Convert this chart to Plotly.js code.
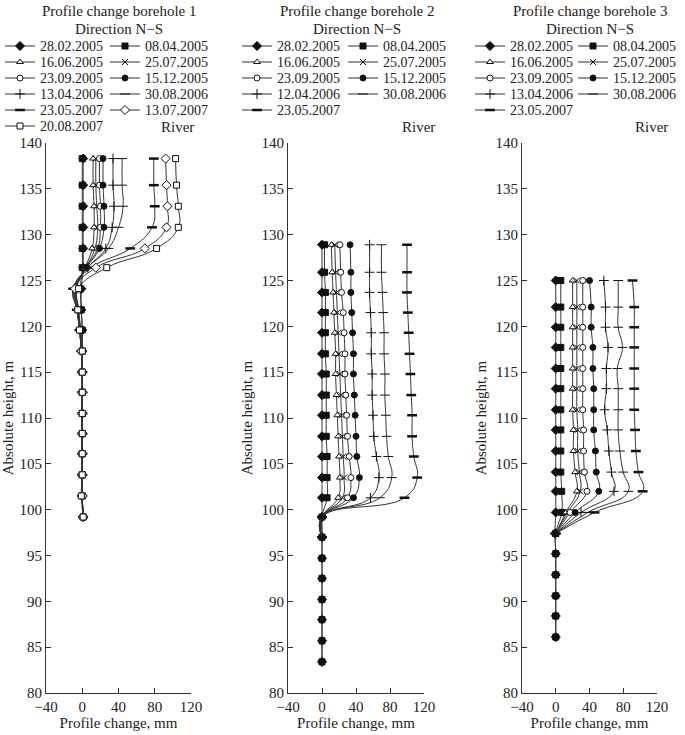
<!DOCTYPE html>
<html>
<head>
<meta charset="utf-8">
<script src="https://cdn.plot.ly/plotly-3.0.1.min.js"></script>
<style>
  body { margin: 0; background: #fff; }
  #chart { width: 685px; height: 735px; }
</style>
</head>
<body>
<div id="chart"></div>
<script>
// heights of the measuring points, m
const heights1 = [138.3, 135.4, 133.1, 130.8, 128.5, 126.4, 124.1, 121.8, 119.6, 117.3, 115.0, 112.8, 110.5, 108.3, 106.1, 103.8, 101.5, 99.2];
const heights2 = [128.9, 125.9, 123.7, 121.5, 119.3, 117.0, 114.8, 112.5, 110.3, 108.0, 105.8, 103.5, 101.3, 99.2, 97.0, 94.7, 92.5, 90.2, 88.0, 85.7, 83.4];
const heights3 = [125.0, 122.1, 119.9, 117.7, 115.4, 113.2, 110.9, 108.7, 106.4, 104.1, 102.0, 99.7, 97.4, 95.2, 92.9, 90.6, 88.4, 86.1];

// survey dates
const dates1 = ['28.02.2005', '08.04.2005', '16.06.2005', '25.07.2005', '23.09.2005', '15.12.2005', '13.04.2006', '30.08.2006', '23.05.2007', '13.07.2007', '20.08.2007'];
const dates2 = ['28.02.2005', '08.04.2005', '16.06.2005', '25.07.2005', '23.09.2005', '15.12.2005', '12.04.2006', '30.08.2006', '23.05.2007'];
const dates3 = ['28.02.2005', '08.04.2005', '16.06.2005', '25.07.2005', '23.09.2005', '15.12.2005', '13.04.2006', '30.08.2006', '23.05.2007'];

// profile change, mm (one row per date, from the top point down)
const change1 = [
  [1, 1, 1, 1, 1, 1, -1, -1, 0, 0, 0, 0, 0, 0, 0, 0, 0, 1],
  [0, 0, 0, 0, 0, 0, -2, -1, 0, 0, 0, 0, 0, 0, 0, 0, 0, 1],
  [12, 12, 13, 13, 11, 3, -6, -4, -2, 0, 0, 0, 0, 0, 0, 0, 0, 1],
  [15, 15, 16, 17, 14, 4, -7, -4, -2, 0, 0, 0, 0, 0, 0, 0, 0, 1],
  [19, 19, 20, 20, 17, 4, -8, -5, -2, -1, 0, 0, 0, 0, 0, 0, 0, 1],
  [23, 23, 24, 24, 19, 5, -7, -5, -2, -1, 0, 0, 0, 0, 0, 0, 0, 1],
  [34, 34, 35, 33, 26, 6, -9, -5, -3, -1, 0, 0, 0, 0, 0, 0, 0, 1],
  [44, 44, 45, 40, 29, 6, -10, -6, -3, -1, 0, 0, 0, 0, 0, 0, 0, 1],
  [79, 79, 80, 77, 53, 10, -10, -6, -3, -1, 0, 0, 0, 0, 0, 0, 0, 1],
  [92, 93, 94, 93, 69, 15, -8, -5, -3, -1, 0, 0, 0, 0, 0, 0, 0, 1],
  [103, 104, 106, 106, 82, 27, -4, -5, -3, 0, 0, 0, 0, 0, 0, 0, -1, 1]
];
const change2 = [
  [0, 0, 0, 0, 0, 0, 0, 0, 0, 0, 0, 0, 0, 0, 0, 0, 0, 0, 0, 0, 0],
  [3, 3, 4, 4, 4, 4, 5, 5, 5, 5, 6, 6, 6, 0, 0, 0, 0, 0, 0, 0, 0],
  [11, 12, 13, 14, 15, 16, 16, 17, 18, 19, 20, 21, 19, 0, 0],
  [15, 16, 17, 18, 19, 20, 21, 22, 23, 24, 25, 26, 24, 0, 0],
  [21, 22, 23, 25, 26, 27, 27, 28, 29, 30, 32, 34, 30, 0, 0],
  [33, 34, 34, 35, 36, 37, 37, 38, 39, 40, 41, 44, 37, 0, 0],
  [56, 56, 56, 57, 58, 58, 59, 59, 60, 61, 64, 67, 57, 0, 0],
  [70, 70, 71, 72, 73, 73, 74, 74, 75, 76, 78, 82, 68, 0, 0],
  [100, 100, 100, 101, 102, 103, 104, 105, 106, 106, 108, 112, 97, 0, 0]
];
const change3 = [
  [0, 0, 0, 0, 0, 0, 0, 0, 0, 0, 0, 0, -1, 0, 0, 0, 0, 0],
  [6, 6, 6, 6, 6, 6, 6, 6, 6, 6, 7, 7, 0, 0, 0, 0, 0, 0],
  [20, 20, 20, 20, 20, 20, 20, 21, 21, 23, 25, 12, 0],
  [25, 25, 25, 25, 25, 25, 25, 26, 26, 28, 29, 14, 0],
  [32, 32, 32, 32, 32, 32, 32, 33, 33, 34, 37, 17, 0],
  [40, 42, 42, 44, 44, 45, 45, 45, 47, 48, 51, 23, 0],
  [57, 59, 59, 62, 60, 60, 58, 61, 63, 66, 69, 30, 0],
  [74, 74, 74, 79, 73, 74, 74, 74, 76, 80, 86, 38, 0],
  [91, 93, 93, 93, 93, 93, 93, 94, 95, 98, 103, 46, 0]
];

const xTicks = [-40, 0, 40, 80, 120];
const yTicks = [80, 85, 90, 95, 100, 105, 110, 115, 120, 125, 130, 135, 140];

const serif = 'Liberation Serif, Times New Roman, serif';
const ink = '#222';

// marker of each date, in the order of the lists above
const markerStyles = [
  {symbol: 'diamond', size: 7, fill: '#111', lw: 1},
  {symbol: 'square', size: 6, fill: '#111', lw: 1},
  {symbol: 'triangle-up', size: 6, fill: '#fff', lw: 1},
  {symbol: 'x-thin-open', size: 6, fill: '#111', lw: 1},
  {symbol: 'circle', size: 6, fill: '#fff', lw: 1},
  {symbol: 'circle', size: 6, fill: '#111', lw: 1},
  {symbol: 'cross-thin-open', size: 7, fill: '#111', lw: 1},
  {symbol: 'line-ew-open', size: 7, fill: '#111', lw: 1},
  {symbol: 'line-ew-open', size: 7, fill: '#111', lw: 2.5},
  {symbol: 'diamond', size: 7, fill: '#fff', lw: 1},
  {symbol: 'square', size: 6, fill: '#fff', lw: 1}
];

function profileTraces(dates, heights, changes, n, legendA, legendB) {
  const suffix = n === 1 ? '' : String(n);
  return dates.map(function (date, i) {
    const st = markerStyles[i];
    return {
      x: changes[i],
      y: heights.slice(0, changes[i].length),
      type: 'scatter',
      mode: 'lines+markers',
      name: date,
      xaxis: 'x' + suffix,
      yaxis: 'y' + suffix,
      legend: i % 2 === 0 ? legendA : legendB,
      line: {color: '#333', width: 1, shape: 'spline', smoothing: 1.3},
      marker: {symbol: st.symbol, size: st.size, color: st.fill, line: {color: '#111', width: st.lw}},
      cliponaxis: false
    };
  });
}

const data = [].concat(
  profileTraces(dates1, heights1, change1, 1, 'legend', 'legend2'),
  profileTraces(dates2, heights2, change2, 2, 'legend3', 'legend4'),
  profileTraces(dates3, heights3, change3, 3, 'legend5', 'legend6')
);

const axisFont = {family: serif, size: 15, color: ink};
const yDomain = [1 - 693 / 735, 1 - 143 / 735];

function xAxis(left, right, anchor) {
  return {
    domain: [left / 685, right / 685], anchor: anchor,
    range: [-40, 120], tickvals: xTicks, ticks: 'inside', ticklen: 5, tickcolor: '#333',
    showline: true, linecolor: '#333', linewidth: 1, showgrid: false, zeroline: false,
    tickfont: axisFont, title: {text: 'Profile change, mm', font: axisFont, standoff: 3}
  };
}
function yAxis(anchor) {
  return {
    domain: yDomain, anchor: anchor,
    range: [80, 140], tickvals: yTicks, ticks: 'inside', ticklen: 5, tickcolor: '#333',
    showline: true, linecolor: '#333', linewidth: 1, showgrid: false, zeroline: false,
    tickfont: axisFont, title: {text: 'Absolute height, m', font: axisFont, standoff: 5}
  };
}
function legendAt(px, py) {
  return {
    x: px / 685, y: 1 - py / 735, xanchor: 'left', yanchor: 'top',
    bgcolor: 'rgba(0,0,0,0)', itemwidth: 30,
    font: {family: serif, size: 14, color: ink}
  };
}
function note(text, px, py) {
  return {
    text: text, xref: 'paper', yref: 'paper', x: px / 685, y: 1 - py / 735,
    xanchor: 'center', yanchor: 'middle', showarrow: false,
    font: {family: serif, size: 15, color: ink}
  };
}

const layout = {
  width: 685,
  height: 735,
  margin: {l: 0, r: 0, t: 0, b: 0},
  paper_bgcolor: '#fff',
  plot_bgcolor: '#fff',
  font: {family: serif, size: 15, color: ink},
  xaxis: xAxis(46, 191, 'y'),
  yaxis: yAxis('x'),
  xaxis2: xAxis(288, 424, 'y2'),
  yaxis2: yAxis('x2'),
  xaxis3: xAxis(522, 657, 'y3'),
  yaxis3: yAxis('x3'),
  legend: legendAt(0, 28),
  legend2: legendAt(105, 28),
  legend3: legendAt(237, 28),
  legend4: legendAt(343, 28),
  legend5: legendAt(470, 28),
  legend6: legendAt(573, 28),
  annotations: [
    note('Profile change borehole 1', 119, 11),
    note('Direction N\u2212S', 119, 29),
    note('Profile change borehole 2', 357, 11),
    note('Direction N\u2212S', 357, 29),
    note('Profile change borehole 3', 590, 11),
    note('Direction N\u2212S', 590, 29),
    note('River', 177, 127),
    note('River', 418, 127),
    note('River', 651, 127)
  ]
};

Plotly.newPlot('chart', data, layout, {staticPlot: true}).then(function (gd) {
  // the printed legend rows sit closer together than Plotly's default row height
  ['legend', 'legend2', 'legend3', 'legend4', 'legend5', 'legend6'].forEach(function (id) {
    gd.querySelectorAll('g.' + id + ' g.traces').forEach(function (item, i) {
      item.setAttribute('transform', 'translate(0,' + (18 + i * 16) + ')');
    });
  });
});
</script>
</body>
</html>
